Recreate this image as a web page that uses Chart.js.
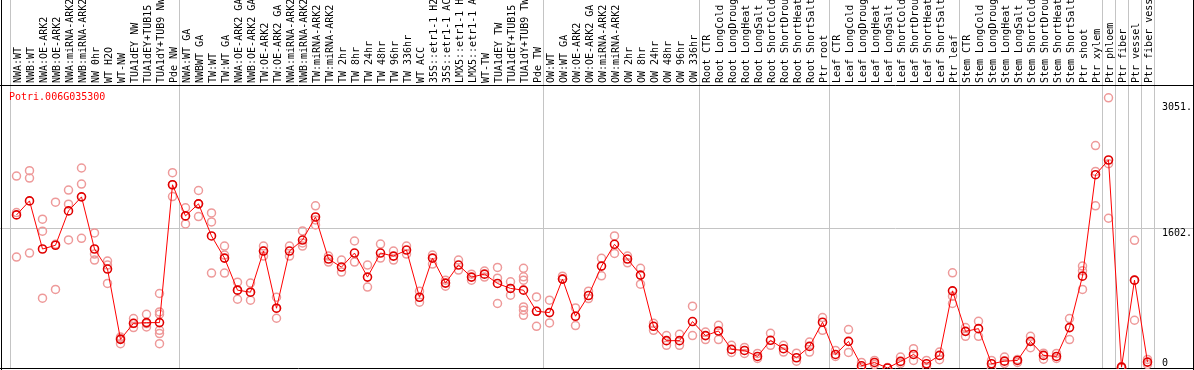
<!DOCTYPE html>
<html><head><meta charset="utf-8">
<script src="https://cdn.jsdelivr.net/npm/chart.js@4.4.0/dist/chart.umd.min.js"></script>
<style>html,body{margin:0;padding:0;background:#fff;}canvas{display:block;}</style>
</head><body>
<canvas id="c" width="1194" height="370"></canvas>
<script>
const geneId = 'Potri.006G035300';
const categories = [
 'NWA:WT','NWB:WT','NWA:OE-ARK2','NWB:OE-ARK2','NWA:miRNA-ARK2','NWB:miRNA-ARK2','NW 0hr','WT H2O','WT-NW',
 'TUA1dEY NW','TUA1dEY+TUB15 NW','TUA1dY+TUB9 NW','Pde NW',
 'NWA:WT GA','NWBWT GA','TW:WT','TW:WT GA','NWA:OE-ARK2 GA','NWB:OE-ARK2 GA','TW:OE-ARK2','TW:OE-ARK2 GA',
 'NWA:miRNA-ARK2 GA','NWB:miRNA-ARK2 GA','TW:miRNA-ARK2','TW:miRNA-ARK2 GA','TW 2hr','TW 8hr','TW 24hr','TW 48hr',
 'TW 96hr','TW 336hr','WT ACC','35S::etr1-1 H2O','35S::etr1-1 ACC','LMX5::etr1-1 H2O','LMX5::etr1-1 ACC','WT-TW',
 'TUA1dEY TW','TUA1dEY+TUB15 TW','TUA1dY+TUB9 TW','Pde TW',
 'OW:WT','OW:WT GA','OW:OE-ARK2','OW:OE-ARK2 GA','OW:miRNA-ARK2','OW:miRNA-ARK2 GA','OW 2hr','OW 8hr','OW 24hr',
 'OW 48hr','OW 96hr','OW 336hr',
 'Root CTR','Root LongCold','Root LongDrought','Root LongHeat','Root LongSalt','Root ShortCold','Root ShortDrought',
 'Root ShortHeat','Root ShortSalt','Ptr root',
 'Leaf CTR','Leaf LongCold','Leaf LongDrought','Leaf LongHeat','Leaf LongSalt','Leaf ShortCold','Leaf ShortDrought',
 'Leaf ShortHeat','Leaf ShortSalt','Ptr leaf',
 'Stem CTR','Stem LongCold','Stem LongDrought','Stem LongHeat','Stem LongSalt','Stem ShortCold','Stem ShortDrought',
 'Stem ShortHeat','Stem ShortSalt','Ptr shoot','Ptr xylem','Ptr phloem','Ptr fiber','Ptr vessel','Ptr fiber vessel'
];
const meanValues = [
 1755,1916,1364,1407,1801,1962,1364,1134,328,512,520,520,2101,
 1744,1882,1514,1260,892,869,1341,685,1341,1467,1732,1249,1157,1318,1042,1318,1283,1352,811,1260,973,1180,1042,1076,
 969,912,892,650,
 635,1019,593,831,1168,1418,1249,1065,478,313,313,532,
 371,424,213,201,132,317,221,117,247,524,
 155,305,25,63,0,75,155,48,144,884,
 420,451,48,78,86,305,144,132,463,1053,2216,2385,9,1007,67
];
const replicateValues = [
 [2201,1782,1272],[2262,2178,1318],[1706,1568,800],[1901,1418,900],[2040,1878,1468],[2293,2109,1487],
 [1548,1306,1237],[1226,1180,969],[355,340,279],[566,509,463],[616,509,470],[854,642,616,432,394,279],[2239,1966,2101],
 [1836,1744,1652],[2035,1882,1736],[1778,1675,1088],[1398,1295,1088],[984,892,788],[973,869,777],[1398,1341,1283],
 [811,685,570],[1398,1283],[1571,1433,1398],[1859,1698,1640],[1283,1214],[1237,1099],[1456,1214],[1180,927],
 [1421,1260],[1341,1237],[1398,1306],[881,754],[1295,1191],[1007,938],[1237,1122],[1076,1007],[1111,1042],
 [1153,1030,739],[988,912,834],[1142,1045,1007,700,662,604],[815,650,478],
 [777,516],[1053,1019],[688,486],[881,796],[1257,1057],[1514,1314],[1283,1206],[1142,961],[512,432],[371,259],
 [386,259],[708,371],
 [412,325],[489,325],[259,178],[236,167],[167,109],[397,259],[259,182],[170,78],[297,182],[578,432],
 [201,132],[440,178],[63,6],[86,40],[0,5],[125,52],[221,86],[86,17],[182,94],[1091,823,739],
 [463,363],[535,363],[86,0],[125,52],[98,63],[363,233],[170,101],[167,109],[566,325],[1168,1114,900],
 [2550,2254,1859],[3098,2342,1717],[15,8,0],[1464,1007,547],[98,40]
];
const yTickValues = [0, 1602, 3051];
const yTickLabels = ['0', '1602.', '3051.'];
const yGridValue = 1602;
const groupBreaks = [13, 41, 53, 63, 73, 84, 85, 86, 87];

const FONT = 'DejaVu Sans Mono';
const maxReps = Math.max(...replicateValues.map(r => r.length));
const repDatasets = [];
for (let k = 0; k < maxReps; k++) {
  repDatasets.push({
    type: 'line',
    data: replicateValues.map(r => (r[k] === undefined ? null : r[k])),
    showLine: false,
    pointRadius: 4,
    pointBorderWidth: 1.5,
    pointBorderColor: '#ee9a9a',
    pointBackgroundColor: 'rgba(0,0,0,0)',
    pointHoverRadius: 4
  });
}

const framePlugin = {
  id: 'frame',
  beforeDraw(chart) {
    const {ctx, chartArea, scales} = chart;
    const x = scales.x, y = scales.y;
    ctx.save();
    ctx.lineWidth = 1;
    ctx.strokeStyle = '#c4c4c4';
    const gy = Math.round(y.getPixelForValue(yGridValue)) + 0.5;
    ctx.beginPath(); ctx.moveTo(0, gy); ctx.lineTo(chart.width, gy); ctx.stroke();
    const half = (x.getPixelForValue(1) - x.getPixelForValue(0)) / 2;
    const edges = [x.left];
    groupBreaks.forEach(b => edges.push(x.getPixelForValue(b) - half));
    edges.push(x.right);
    edges.forEach(e => {
      const px = Math.round(e) + 0.5;
      ctx.beginPath(); ctx.moveTo(px, 0); ctx.lineTo(px, chartArea.bottom); ctx.stroke();
    });
    ctx.strokeStyle = '#000';
    ctx.beginPath();
    ctx.moveTo(0, chartArea.top + 0.5); ctx.lineTo(chart.width, chartArea.top + 0.5);
    ctx.moveTo(1.5, 0); ctx.lineTo(1.5, chart.height);
    ctx.moveTo(chart.width - 0.5, 0); ctx.lineTo(chart.width - 0.5, chart.height);
    ctx.moveTo(0, chartArea.bottom - 0.5); ctx.lineTo(chart.width, chartArea.bottom - 0.5);
    ctx.stroke();
    ctx.restore();
  },
  afterDraw(chart) {
    const {ctx, chartArea} = chart;
    ctx.save();
    ctx.fillStyle = '#ff0000';
    ctx.font = '10px "' + FONT + '"';
    ctx.textBaseline = 'middle';
    ctx.textAlign = 'left';
    ctx.fillText(geneId, 9, chartArea.top + 12);
    ctx.restore();
  }
};

new Chart(document.getElementById('c'), {
  type: 'line',
  data: {
    labels: categories,
    datasets: [{
      data: meanValues,
      borderColor: '#ff0000',
      borderWidth: 1,
      tension: 0,
      pointRadius: 4,
      pointBorderWidth: 1.6,
      pointBorderColor: '#e00000',
      pointBackgroundColor: 'rgba(0,0,0,0)',
      pointHoverRadius: 4
    }].concat(repDatasets)
  },
  options: {
    responsive: false,
    animation: false,
    events: [],
    layout: {autoPadding: false, padding: {left: 10, right: 0, top: 0, bottom: 1}},
    plugins: {legend: {display: false}, tooltip: {enabled: false}, title: {display: false}},
    scales: {
      x: {
        type: 'category',
        position: 'top',
        offset: true,
        grid: {display: false, drawTicks: false},
        border: {display: false},
        ticks: {
          autoSkip: false, minRotation: 90, maxRotation: 90, padding: 2, labelOffset: 13.5,
          color: '#000', font: {family: FONT, size: 10}
        },
        afterFit(s) { s.height = 85; s.paddingLeft = 0; s.paddingRight = 0; }
      },
      y: {
        type: 'linear',
        position: 'right',
        min: -12,
        max: 3245,
        grid: {display: false, drawTicks: false},
        border: {display: false},
        afterBuildTicks(s) { s.ticks = yTickValues.map(v => ({value: v})); },
        ticks: {
          padding: 8,
          color: '#000',
          font: {family: FONT, size: 10, lineHeight: '10px'},
          callback(value) {
            const i = yTickValues.indexOf(value);
            const t = i >= 0 ? yTickLabels[i] : '';
            return value === 0 ? [t, ''] : ['', t];
          }
        },
        afterFit(s) { s.width = 40; s.paddingTop = 0; s.paddingBottom = 0; }
      }
    }
  },
  plugins: [framePlugin]
});
</script>
</body></html>
